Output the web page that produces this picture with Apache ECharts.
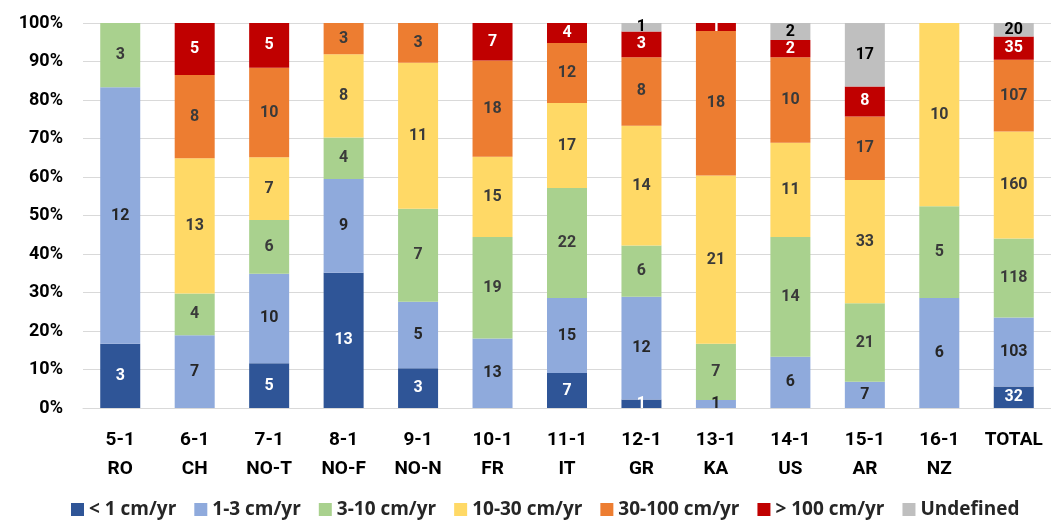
<!DOCTYPE html>
<html>
<head>
<meta charset="utf-8">
<script src="https://cdn.jsdelivr.net/npm/echarts@6/dist/echarts.min.js"></script>
<style>
  html, body { margin: 0; padding: 0; background: #fff; }
  #chart { width: 1051px; height: 520px; }
</style>
</head>
<body>
<div id="chart"></div>
<script>
// Site categories (code + region)
const categories = ['5-1\nRO', '6-1\nCH', '7-1\nNO-T', '8-1\nNO-F', '9-1\nNO-N', '10-1\nFR',
  '11-1\nIT', '12-1\nGR', '13-1\nKA', '14-1\nUS', '15-1\nAR', '16-1\nNZ', 'TOTAL'];

// Counts per rate class for each site
const lt1      = [3, 0, 5, 13, 3, 0, 7, 1, 0, 0, 0, 0, 32];
const r1to3    = [12, 7, 10, 9, 5, 13, 15, 12, 1, 6, 7, 6, 103];
const r3to10   = [3, 4, 6, 4, 7, 19, 22, 6, 7, 14, 21, 5, 118];
const r10to30  = [0, 13, 7, 8, 11, 15, 17, 14, 21, 11, 33, 10, 160];
const r30to100 = [0, 8, 10, 3, 3, 18, 12, 8, 18, 10, 17, 0, 107];
const gt100    = [0, 5, 5, 0, 0, 7, 4, 3, 1, 2, 8, 0, 35];
const undef    = [0, 0, 0, 0, 0, 0, 0, 1, 0, 2, 17, 0, 20];

const yTicks = [0, 10, 20, 30, 40, 50, 60, 70, 80, 90, 100];

const classes = [
  { name: '< 1 cm/yr',    data: lt1,      color: '#2F5597', label: '#FFFFFF' },
  { name: '1-3 cm/yr',    data: r1to3,    color: '#8FAADC', label: '#262626' },
  { name: '3-10 cm/yr',   data: r3to10,   color: '#A9D18E', label: '#3A3A3A' },
  { name: '10-30 cm/yr',  data: r10to30,  color: '#FFD966', label: '#3A3A3A' },
  { name: '30-100 cm/yr', data: r30to100, color: '#ED7D31', label: '#3A3A3A' },
  { name: '> 100 cm/yr',  data: gt100,    color: '#C00000', label: '#FFFFFF' },
  { name: 'Undefined',    data: undef,    color: '#BFBFBF', label: '#000000' }
];

// Column totals, used to turn counts into shares of 100%
const totals = categories.map((_, i) => classes.reduce((s, c) => s + c.data[i], 0));

const FONT = 'Roboto';

const series = classes.map(c => ({
  name: c.name,
  type: 'bar',
  stack: 'share',
  barWidth: 40,
  itemStyle: { color: c.color },
  label: {
    show: true,
    position: 'inside',
    color: c.label,
    fontFamily: FONT,
    fontWeight: 'bold',
    fontSize: 16,
    formatter: p => (p.data.count > 0 ? String(p.data.count) : '')
  },
  data: c.data.map((v, i) => ({ value: v / totals[i] * 100, count: v }))
}));

const chart = echarts.init(document.getElementById('chart'), null, { renderer: 'canvas' });
chart.setOption({
  animation: false,
  backgroundColor: '#FFFFFF',
  textStyle: { fontFamily: FONT },
  grid: { left: 83, top: 23, width: 975, height: 385 },
  legend: {
    bottom: -4,
    left: 66,
    itemWidth: 13,
    itemHeight: 13,
    itemGap: 18,
    icon: 'rect',
    textStyle: { fontFamily: 'Open Sans', fontWeight: 'bold', fontSize: 19, color: '#262626' },
    data: classes.map(c => c.name)
  },
  xAxis: {
    type: 'category',
    data: categories,
    axisLine: { show: true, lineStyle: { color: '#D9D9D9', width: 1 } },
    axisTick: { show: false },
    axisLabel: {
      margin: 18,
      fontFamily: FONT,
      fontWeight: 'bold',
      fontSize: 19,
      lineHeight: 29,
      color: '#000000',
      interval: 0
    }
  },
  yAxis: {
    type: 'value',
    min: yTicks[0],
    max: yTicks[yTicks.length - 1],
    interval: yTicks[1] - yTicks[0],
    axisLine: { show: false },
    axisTick: { show: false },
    splitLine: { lineStyle: { color: '#D9D9D9', width: 1 } },
    axisLabel: {
      margin: 20,
      fontFamily: FONT,
      fontWeight: 'bold',
      fontSize: 18,
      color: '#000000',
      formatter: v => v + '%'
    }
  },
  series: series
});
</script>
</body>
</html>
